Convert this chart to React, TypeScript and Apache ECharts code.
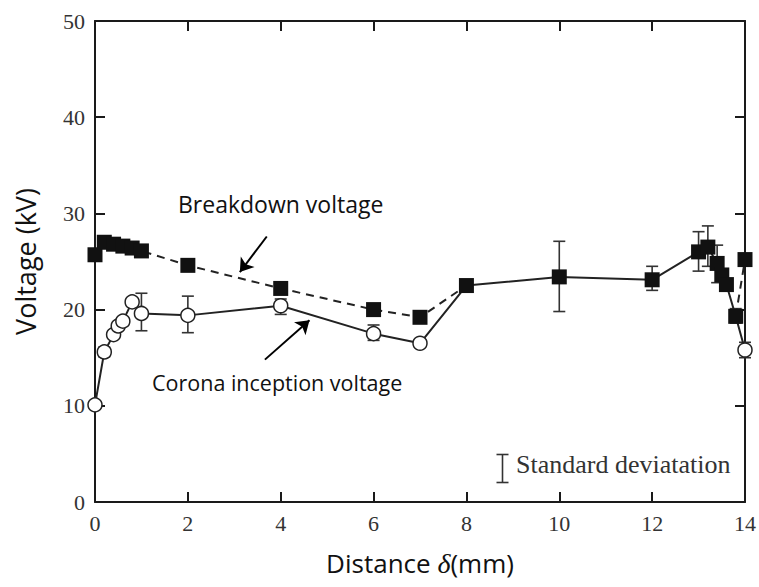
import React, { useEffect, useRef } from "react";
import * as echarts from "echarts";

// Breakdown voltage (filled squares)
const breakdownX = [0, 0.2, 0.4, 0.6, 0.8, 1.0, 2, 4, 6, 7, 8, 10, 12, 13, 13.2, 13.4, 13.5, 13.6, 13.8, 14];
const breakdownY = [25.7, 27.0, 26.8, 26.6, 26.4, 26.1, 24.6, 22.2, 20.0, 19.2, 22.5, 23.4, 23.1, 26.0, 26.5, 24.8, 23.6, 22.6, 19.3, 25.2];

// Corona inception voltage (open circles)
const coronaX = [0, 0.2, 0.4, 0.5, 0.6, 0.8, 1.0, 2, 4, 6, 7, 14];
const coronaY = [10.1, 15.6, 17.4, 18.3, 18.8, 20.8, 19.6, 19.4, 20.4, 17.5, 16.5, 15.8];

// Standard deviation bars
const errX = [0.2, 1.0, 2, 4, 6, 14, 4, 6, 10, 12, 13, 13.2, 13.4, 13.8];
const errLow = [15.1, 17.8, 17.6, 19.5, 16.8, 15.0, 21.6, 19.5, 19.8, 22.0, 24.0, 24.5, 22.8, 18.6];
const errHigh = [16.1, 21.7, 21.4, 21.1, 18.4, 16.6, 22.8, 20.4, 27.1, 24.5, 28.1, 28.7, 26.7, 20.1];

const xTicks = { min: 0, max: 14, interval: 2 };
const yTicks = { min: 0, max: 50, interval: 10 };

const INK = "#1a1a1a";
const SERIF = "'Liberation Serif', 'Times New Roman', serif";
const SANS = "'Open Sans', 'Noto Sans', sans-serif";

export default function App() {
  const ref = useRef<HTMLDivElement>(null);

  useEffect(() => {
    if (!ref.current) return;
    const chart = echarts.init(ref.current, null, { renderer: "svg" });

    const bd = breakdownX.map((x, i) => [x, breakdownY[i]]);
    const co = coronaX.map((x, i) => [x, coronaY[i]]);

    // dashed breakdown line: up to 8 mm, and again from 13.8 mm to 14 mm
    const dashed: any[] = [];
    bd.forEach((p) => {
      if (p[0] <= 8) dashed.push(p);
    });
    dashed.push("-");
    bd.forEach((p) => {
      if (p[0] >= 13.8) dashed.push(p);
    });

    // solid corona line: corona up to 7, then merged with breakdown 8..13.8, then corona at 14
    const solid: any[] = [];
    co.forEach((p) => {
      if (p[0] <= 7) solid.push(p);
    });
    bd.forEach((p) => {
      if (p[0] >= 8 && p[0] <= 13.8) solid.push(p);
    });
    co.forEach((p) => {
      if (p[0] >= 14) solid.push(p);
    });

    const err = errX.map((x, i) => [x, errLow[i], errHigh[i]]);

    const axisLine = { show: true, onZero: false, lineStyle: { color: INK, width: 2 } };
    const tick = { show: true, inside: true, length: 10, lineStyle: { color: INK, width: 2 } };

    const option: any = {
      animation: false,
      grid: { left: 95, right: 14, top: 21, bottom: 85, containLabel: false },
      xAxis: [
        {
          type: "value",
          ...xTicks,
          position: "bottom",
          axisLine,
          axisTick: tick,
          splitLine: { show: false },
          axisLabel: { fontFamily: SERIF, fontSize: 22, color: "#333", margin: 10 },
          name: "Distance {d|δ}(mm)",
          nameLocation: "middle",
          nameGap: 47,
          nameTextStyle: {
            fontFamily: SANS,
            fontSize: 26,
            color: "#111",
            rich: {
              d: { fontFamily: SERIF, fontStyle: "italic", fontSize: 28, color: "#111" },
            },
          },
        },
        {
          type: "value",
          ...xTicks,
          position: "top",
          axisLine,
          axisTick: tick,
          splitLine: { show: false },
          axisLabel: { show: false },
        },
      ],
      yAxis: [
        {
          type: "value",
          ...yTicks,
          position: "left",
          axisLine,
          axisTick: tick,
          splitLine: { show: false },
          axisLabel: { fontFamily: SERIF, fontSize: 22, color: "#333", margin: 10 },
          name: "Voltage (kV)",
          nameLocation: "middle",
          nameGap: 56,
          nameRotate: 90,
          nameTextStyle: { fontFamily: SANS, fontSize: 27, color: "#111" },
        },
        {
          type: "value",
          ...yTicks,
          position: "right",
          axisLine,
          axisTick: tick,
          splitLine: { show: false },
          axisLabel: { show: false },
        },
      ],
      series: [
        {
          type: "custom",
          name: "Standard deviation",
          z: 1,
          renderItem: (params: any, api: any) => {
            const x = api.value(0);
            const p1 = api.coord([x, api.value(1)]);
            const p2 = api.coord([x, api.value(2)]);
            const w = 6;
            const st = { stroke: "#333", lineWidth: 1.6 };
            return {
              type: "group",
              children: [
                { type: "line", shape: { x1: p1[0], y1: p1[1], x2: p2[0], y2: p2[1] }, style: st },
                { type: "line", shape: { x1: p1[0] - w, y1: p1[1], x2: p1[0] + w, y2: p1[1] }, style: st },
                { type: "line", shape: { x1: p2[0] - w, y1: p2[1], x2: p2[0] + w, y2: p2[1] }, style: st },
              ],
            };
          },
          encode: { x: 0, y: [1, 2] },
          data: err,
        },
        {
          type: "line",
          name: "Breakdown line",
          z: 2,
          data: dashed,
          symbol: "none",
          connectNulls: false,
          lineStyle: { color: "#222", width: 2, type: [8, 6] },
        },
        {
          type: "line",
          name: "Corona line",
          z: 2,
          data: solid,
          symbol: "none",
          lineStyle: { color: "#222", width: 2 },
        },
        {
          type: "scatter",
          name: "Breakdown voltage",
          z: 3,
          data: bd,
          symbol: "rect",
          symbolSize: 15,
          itemStyle: { color: "#111", opacity: 1 },
          markLine: {
            silent: true,
            symbol: ["none", "arrow"],
            symbolSize: 13,
            label: { show: false },
            lineStyle: { color: "#000", width: 2, type: "solid" },
            data: [
              [{ coord: [3.7, 27.6] }, { coord: [3.12, 23.9] }],
              [{ coord: [3.66, 14.8] }, { coord: [4.62, 18.9] }],
            ],
          },
        },
        {
          type: "scatter",
          name: "Corona inception voltage",
          z: 4,
          data: co,
          symbol: "circle",
          symbolSize: 14,
          itemStyle: { color: "#fff", borderColor: "#222", borderWidth: 1.5, opacity: 1 },
        },
      ],
      graphic: [
        {
          type: "text",
          left: 178,
          top: 192,
          style: { text: "Breakdown voltage", fontFamily: SANS, fontSize: 23, fill: "#111" },
        },
        {
          type: "text",
          left: 152,
          top: 371,
          style: { text: "Corona inception voltage", fontFamily: SANS, fontSize: 21.5, fill: "#111" },
        },
        {
          type: "group",
          left: 494,
          top: 452,
          children: [
            { type: "line", shape: { x1: 6, y1: 0, x2: 6, y2: 28 }, style: { stroke: "#333", lineWidth: 1.6 } },
            { type: "line", shape: { x1: 0, y1: 0, x2: 12, y2: 0 }, style: { stroke: "#333", lineWidth: 1.6 } },
            { type: "line", shape: { x1: 0, y1: 28, x2: 12, y2: 28 }, style: { stroke: "#333", lineWidth: 1.6 } },
          ],
        },
        {
          type: "text",
          left: 516,
          top: 451,
          style: { text: "Standard deviatation", fontFamily: SERIF, fontSize: 26, fill: "#333" },
        },
      ],
    };

    chart.setOption(option);
    return () => chart.dispose();
  }, []);

  return (
    <div
      ref={ref}
      style={{ position: "fixed", left: 0, top: 0, width: 759, height: 587, background: "#fff" }}
    />
  );
}
